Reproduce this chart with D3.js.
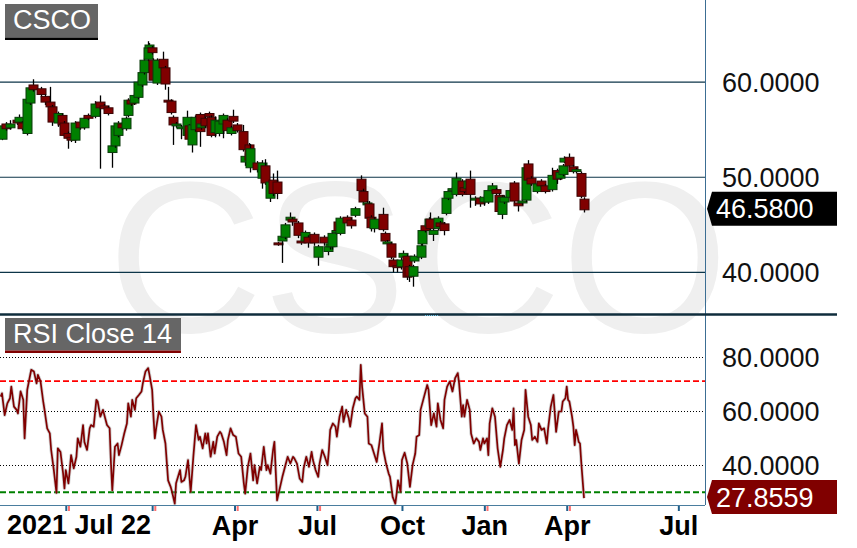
<!DOCTYPE html>
<html><head><meta charset="utf-8">
<script src="https://cdn.jsdelivr.net/npm/d3@7/dist/d3.min.js"></script>
<style>html,body{margin:0;padding:0;background:#fff;}svg{display:block;}</style>
</head><body>
<svg id="chart" width="857" height="548"></svg>
<script>
// ---- DATA (trading-day index from 2021 Jul 22) ----
const symbol = "CSCO";
const rsiTitle = "RSI Close 14";
const startDateLabel = "2021 Jul 22";
const candleDay = [0,3,6,11,13,15,19,21,23,29,32,36,38,42,45,47,50,52,55,59,62,65,70,74,77,80,83,85,87,90,93,95,97,99,102,105,107,110,111,113,114,117,121,123,125,127,129,131,135,139,141,143,145,149,150,153,156,157,160,163,166,169,172,174,177,181,183,186,187,192,196,198,202,204,207,208,211,213,217,218,223,225,228,230,235,238,242,245,247,248,251,253,254,260,263,266,270,272,275,276,278,280,287,288,290,293,294,297,300,302,305,306,309,310,315,316,318,321,322,324,328,330,333,334,336,339,342,346,348,351,352,356,360,363,366,369,372,374,376,378,382,385,388,391,394,396,398,403,406,409,414,418,420,422,423,427,430,432,436,438];
const candleOpen = [54.0,55.6,55.2,56.0,55.8,55.7,54.6,57.8,59.7,59.3,58.5,57.9,57.4,55.7,56.5,55.7,54.6,54.2,53.9,55.8,55.2,56.5,56.4,57.9,57.5,57.3,52.6,53.3,54.4,55.6,55.1,56.5,58.1,57.8,58.4,59.7,61.0,62.4,63.6,63.6,62.3,59.9,62.4,61.5,58.1,58.0,56.3,55.4,55.1,54.4,55.4,53.4,55.0,56.6,55.2,56.2,56.7,56.3,54.7,54.6,55.6,56.0,54.6,56.4,55.5,54.8,51.6,53.4,51.0,51.5,49.9,51.2,47.8,49.7,49.5,43.1,43.3,43.7,45.5,45.6,45.2,43.3,43.3,43.7,44.0,41.6,43.7,42.2,42.7,42.7,44.2,45.3,44.1,45.8,45.5,46.0,49.8,48.5,47.1,47.2,45.8,44.6,46.1,44.1,43.0,43.0,41.3,40.7,40.6,41.6,41.7,40.6,39.6,41.2,41.6,43.0,44.9,44.8,45.6,44.0,44.6,45.2,45.1,46.2,47.8,48.6,48.2,49.6,48.9,48.8,49.8,47.6,47.8,47.4,47.4,48.6,48.7,48.1,46.1,47.4,47.9,49.4,47.3,47.3,47.6,51.4,49.9,48.5,49.6,49.1,48.7,50.7,49.9,50.3,51.6,52.1,51.1,50.6,50.4,47.7];
const candleHigh = [55.6,55.8,56.0,56.3,56.6,55.9,58.4,59.6,60.3,59.5,58.7,59.5,57.6,56.9,56.7,55.9,54.8,54.4,55.9,56.0,56.4,56.7,58.0,58.6,57.7,57.5,53.5,55.6,55.9,55.8,56.4,58.3,58.3,58.8,60.2,61.2,62.5,64.3,64.1,63.8,62.5,62.5,63.2,61.7,59.5,58.2,56.5,55.8,55.5,57.0,55.6,55.7,56.5,56.8,55.8,56.4,56.9,56.5,56.4,56.1,56.7,56.2,55.4,57.1,55.7,55.5,52.5,53.6,53.5,51.7,51.8,51.9,49.7,50.4,50.7,43.2,44.2,45.2,46.3,45.8,45.4,43.5,44.4,43.9,44.2,42.9,43.9,43.0,43.3,44.4,44.6,45.5,45.9,46.0,45.7,46.9,50.2,48.8,47.5,47.5,46.0,45.8,46.8,44.3,43.4,43.2,41.5,40.9,41.6,42.3,41.9,40.8,40.8,41.9,43.0,44.6,45.1,45.8,46.3,44.6,45.9,45.4,45.3,48.0,48.7,49.0,50.5,49.8,49.1,49.8,50.7,48.0,48.0,48.2,48.8,49.4,48.9,48.3,48.1,48.1,48.8,49.6,47.5,47.7,51.2,51.8,50.1,49.5,49.8,49.3,51.0,50.9,50.7,51.4,52.2,52.5,51.3,51.0,50.6,47.9];
const candleLow = [53.9,54.9,55.0,55.5,55.6,54.9,54.4,57.6,59.0,58.4,57.6,57.2,55.4,55.3,55.2,54.2,53.0,53.7,53.6,55.0,55.0,56.0,56.2,50.9,57.0,56.5,51.0,53.1,54.2,55.0,54.9,56.3,57.5,57.6,58.2,59.5,60.8,62.2,63.4,62.9,60.0,59.7,61.3,59.2,57.7,56.6,53.4,55.2,54.0,54.2,53.8,52.6,54.8,53.2,55.0,55.2,56.2,54.2,54.2,54.3,54.1,54.7,54.4,55.7,54.7,52.7,51.2,51.5,50.5,50.5,48.8,49.2,47.4,48.0,47.7,42.8,41.0,43.5,45.3,44.9,43.6,42.9,43.1,42.6,42.8,40.7,42.8,41.8,42.4,42.4,44.0,44.1,43.9,44.9,44.6,45.8,48.3,47.2,46.9,45.5,44.3,44.2,44.3,43.0,42.8,41.4,40.0,40.0,40.3,41.3,39.2,39.0,38.5,41.0,41.4,42.8,44.2,44.6,44.4,43.3,44.4,44.6,43.9,46.0,47.6,48.4,48.0,48.0,48.3,48.6,46.8,47.0,46.9,47.0,47.2,48.4,48.1,46.2,45.6,47.2,47.7,47.3,46.4,47.1,47.4,49.5,49.1,48.3,48.9,48.3,48.5,49.3,49.7,50.1,51.5,51.0,50.4,50.4,47.8,46.3];
const candleClose = [55.4,55.1,55.6,55.7,56.3,55.1,58.2,59.4,59.2,58.7,57.9,57.4,55.8,56.7,55.5,54.4,54.1,53.9,55.7,55.2,56.2,56.2,57.7,57.3,57.2,56.7,53.3,55.4,55.7,55.2,56.2,58.1,57.7,58.6,60.0,61.0,62.3,63.6,63.9,63.1,60.2,62.3,61.5,59.8,57.9,56.8,55.5,55.6,55.3,56.3,54.0,55.5,56.3,54.8,55.6,55.4,56.4,54.4,56.0,55.9,56.5,54.9,55.2,55.9,54.9,52.9,52.2,51.8,53.0,50.8,51.5,49.4,49.5,48.3,48.3,42.9,43.8,45.0,45.8,45.3,43.9,43.1,44.2,43.1,43.1,42.7,43.1,42.7,43.0,44.1,44.4,44.4,45.7,45.2,44.9,46.7,48.6,47.4,47.3,45.7,44.7,45.6,44.5,43.3,43.2,41.6,40.6,40.5,41.3,42.0,39.5,39.6,40.6,41.7,42.8,44.4,44.4,45.6,44.6,44.4,45.7,44.8,44.4,47.8,48.5,48.8,49.9,48.2,48.5,49.6,48.2,47.8,47.2,47.9,48.6,49.1,48.3,46.4,47.9,47.9,48.6,47.5,47.0,47.5,51.0,49.7,49.3,49.3,49.1,48.5,50.2,49.8,50.5,51.2,52.0,51.2,50.6,50.8,48.0,46.58];
const rsiDay = [-1,0,2,4,6,7,9,11,12,14,16,17,19,22,24,26,27,29,31,32,34,36,37,39,41,42,44,46,47,48,50,51,52,54,56,57,59,61,62,64,66,67,69,71,72,74,76,78,79,81,82,83,85,87,88,90,92,94,95,97,98,100,101,103,105,106,108,110,111,113,114,115,116,118,120,121,123,125,127,128,130,131,134,135,137,138,140,142,144,146,148,149,151,153,154,155,157,159,160,162,164,165,167,169,170,172,174,176,178,180,182,183,185,187,189,190,192,194,195,197,199,200,202,204,205,207,
211,213,215,217,219,220,222,224,226,227,229,231,233,234,236,238,239,241,243,245,246,247,249,251,252,254,256,257,259,261,262,264,266,267,269,270,271,273,275,276,278,280,282,284,286,287,289,291,292,294,296,297,298,300,301,303,305,307,309,311,312,314,315,317,320,321,323,325,327,328,330,332,333,335,337,339,341,343,344,346,347,348,350,352,353,355,357,359,360,362,363,365,366,367,369,371,373,375,377,378,380,382,384,385,386,387,389,391,393,394,396,398,399,401,403,404,406,408,410,411,413,415,416,417,419,
421,422,424,425,426,427,429,430,431,432,433,434,435,436,438];
const rsiValue = [65.3,66.5,58.5,62.8,64.7,69.0,61.6,60.4,59.1,67.2,64.1,49.9,67.8,75.2,74.6,70.2,73.3,70.9,63.5,60.4,53.6,51.7,45.6,38.2,29.8,46.2,44.9,36.9,31.4,38.2,33.3,38.2,43.7,38.8,43.1,49.9,46.8,54.8,48.6,45.6,53.6,54.8,54.2,64.1,63.5,57.9,60.4,56.7,54.8,53.6,40.6,30.7,46.8,48.0,43.7,47.4,51.7,55.4,62.8,57.9,64.1,60.4,64.7,65.9,67.2,70.2,74.6,75.8,73.3,67.8,57.9,49.9,53.6,59.8,57.9,53.0,48.0,34.4,31.9,30.1,25.8,33.3,38.2,33.8,34.4,35.7,41.9,30.1,43.1,54.8,49.3,50.5,46.2,51.7,48.0,51.7,43.1,48.6,44.3,50.5,52.3,51.7,48.6,43.7,49.3,53.6,51.1,50.5,44.3,43.1,33.3,29.5,39.4,44.3,34.4,40.0,33.3,39.4,38.2,46.8,38.2,40.0,36.9,45.6,48.6,27.0,
35.7,39.4,43.1,40.6,43.1,42.5,40.6,35.1,33.8,38.8,43.1,39.4,44.9,41.9,38.2,35.7,40.6,45.6,43.1,40.0,45.6,53.0,55.4,54.2,50.5,57.9,61.6,56.0,60.4,57.3,54.2,61.0,64.7,65.3,64.1,77.0,69.0,59.1,57.9,48.0,47.4,44.3,41.2,48.0,55.4,45.6,40.6,36.9,35.7,28.3,25.8,29.5,34.4,30.1,41.9,44.6,40.6,32.0,40.0,44.3,50.5,51.1,60.4,64.1,69.6,67.8,54.8,59.1,54.2,62.8,56.7,53.6,64.1,69.0,70.9,67.2,72.1,74.0,70.2,57.9,62.2,57.9,64.1,60.4,51.7,48.0,49.9,48.6,45.6,49.9,48.0,49.9,43.7,55.4,61.0,57.9,46.2,39.4,45.6,49.9,54.8,56.7,53.0,61.0,47.4,49.3,40.6,49.3,53.0,67.8,57.9,54.8,49.3,50.5,48.6,55.4,53.0,53.6,48.0,53.6,61.6,65.9,59.1,52.3,59.8,
59.8,63.5,64.7,69.0,64.1,63.5,57.9,54.2,47.4,53.0,51.1,48.6,48.0,40.6,27.8559];
const priceTicks = [40, 50, 60];
const rsiTicks = [40, 60, 80];
const rsiOverbought = [71];
const rsiOversold = [30];
const quarterTickDays = [48, 113, 175, 237, 301, 363, 425, 509];
const quarterTickLabels = ["", "", "Apr", "Jul", "Oct", "Jan", "Apr", "Jul"];
const monthTickDays = [50, 115, 177, 239, 365, 427];
const lastPrice = candleClose[candleClose.length - 1];
const lastRsi = rsiValue[rsiValue.length - 1];

// ---- LAYOUT ----
const W = 857, H = 548;
const plotRight = 705, edgeRight = 837;
const priceTop = 0, priceBottom = 314;
const rsiTop = 316, rsiBottom = 505;
const font = "'Liberation Sans', Arial, Helvetica, sans-serif";

const svg = d3.select("#chart").style("font-family", font);
const x = d3.scaleLinear().domain([0, 438]).range([2, 584]);
const yP = d3.scaleLinear().domain([35.63, 68.63]).range([priceBottom, priceTop]);
const yR = d3.scaleLinear().domain([25.3, 95.05]).range([rsiBottom, rsiTop]);
const fmt = d3.format(".4f");

const defs = svg.append("defs");
defs.append("clipPath").attr("id", "clipP").append("rect").attr("x", 0).attr("y", priceTop).attr("width", plotRight).attr("height", priceBottom - priceTop);
defs.append("clipPath").attr("id", "clipR").append("rect").attr("x", 0).attr("y", rsiTop).attr("width", plotRight).attr("height", rsiBottom - rsiTop);

// watermark
svg.append("text").attr("x", 418).attr("y", 332).attr("text-anchor", "middle")
  .attr("font-size", 215).attr("fill", "#efefef").text(symbol);

// price grid
svg.append("g").selectAll("line").data(priceTicks).join("line")
  .attr("x1", 0).attr("x2", plotRight).attr("y1", d => yP(d)).attr("y2", d => yP(d))
  .attr("stroke", "#0c3548").attr("stroke-width", 1.2);

// RSI grid
svg.append("g").selectAll("line").data(rsiTicks).join("line")
  .attr("x1", 0).attr("x2", plotRight).attr("y1", d => Math.round(yR(d)) + 0.5).attr("y2", d => Math.round(yR(d)) + 0.5)
  .attr("stroke", "#000").attr("stroke-width", 1).attr("stroke-dasharray", "1,2");
svg.append("g").selectAll("line").data(rsiOverbought).join("line")
  .attr("x1", 0).attr("x2", plotRight).attr("y1", d => yR(d)).attr("y2", d => yR(d))
  .attr("stroke", "#ff0000").attr("stroke-width", 1.6).attr("stroke-dasharray", "6,3");
svg.append("g").selectAll("line").data(rsiOversold).join("line")
  .attr("x1", 0).attr("x2", plotRight).attr("y1", d => yR(d)).attr("y2", d => yR(d))
  .attr("stroke", "#008000").attr("stroke-width", 1.8).attr("stroke-dasharray", "6,3");

// candles
const candles = candleDay.map((d, i) => ({d, o: candleOpen[i], h: candleHigh[i], l: candleLow[i], c: candleClose[i]}));
const cg = svg.append("g").attr("clip-path", "url(#clipP)");
const bodyW = 9;
candles.forEach(k => {
  const cx = Math.round(x(k.d));
  const up = k.c >= k.o;
  cg.append("line").attr("x1", cx + 0.5).attr("x2", cx + 0.5).attr("y1", yP(k.h)).attr("y2", yP(k.l))
    .attr("stroke", "#000").attr("stroke-width", 1.3);
  const top = yP(Math.max(k.o, k.c)), bot = yP(Math.min(k.o, k.c));
  cg.append("rect").attr("x", cx - 4).attr("y", top).attr("width", bodyW).attr("height", Math.max(1.5, bot - top))
    .attr("fill", up ? "#008000" : "#800000").attr("stroke", up ? "#0b3a0b" : "#3a0505").attr("stroke-width", 1);
});

// RSI line
const rsiPts = rsiDay.map((d, i) => [d, rsiValue[i]]);
const line = d3.line().x(p => x(p[0])).y(p => yR(p[1]));
const rg = svg.append("g").attr("clip-path", "url(#clipR)");
rg.append("path").datum(rsiPts).attr("d", line).attr("fill", "none")
  .attr("stroke", "rgba(150,150,150,0.45)").attr("stroke-width", 3.4).attr("stroke-linejoin", "round");
rg.append("path").datum(rsiPts).attr("d", line).attr("fill", "none")
  .attr("stroke", "#800000").attr("stroke-width", 1.7).attr("stroke-linejoin", "round");

// frame lines
svg.append("line").attr("x1", plotRight + 0.5).attr("x2", plotRight + 0.5).attr("y1", 0).attr("y2", rsiBottom)
  .attr("stroke", "#3c6e93").attr("stroke-width", 1);
svg.append("line").attr("x1", 0).attr("x2", plotRight).attr("y1", rsiBottom + 0.5).attr("y2", rsiBottom + 0.5)
  .attr("stroke", "#4a7d9e").attr("stroke-width", 1);
svg.append("line").attr("x1", 0).attr("x2", edgeRight).attr("y1", 314.5).attr("y2", 314.5)
  .attr("stroke", "#0f2d3c").attr("stroke-width", 2.5);
svg.append("line").attr("x1", 425).attr("x2", 439).attr("y1", 315.5).attr("y2", 315.5)
  .attr("stroke", "#6ec6e8").attr("stroke-width", 1).attr("stroke-dasharray", "1,1");

// right axes
const pAxis = svg.append("g").attr("transform", `translate(${plotRight},0)`)
  .call(d3.axisRight(yP).tickValues(priceTicks).tickFormat(fmt).tickSize(0).tickPadding(17));
const rAxis = svg.append("g").attr("transform", `translate(${plotRight},0)`)
  .call(d3.axisRight(yR).tickValues(rsiTicks).tickFormat(fmt).tickSize(0).tickPadding(17));
[pAxis, rAxis].forEach(a => {
  a.select(".domain").remove();
  a.selectAll("text").attr("font-size", 27).attr("font-family", font).attr("fill", "#111").attr("dy", "0.35em");
});

// last value tags
function tag(yv, fill, txt) {
  const h = 34, y0 = yv - h / 2;
  svg.append("path").attr("d", `M${plotRight + 2},${yv} L${plotRight + 7},${y0} L${edgeRight},${y0} L${edgeRight},${y0 + h} L${plotRight + 7},${y0 + h} Z`)
    .attr("fill", fill);
  svg.append("text").attr("x", 716).attr("y", yv).attr("dy", "0.35em").attr("font-size", 27)
    .attr("fill", "#fff").text(txt);
}
tag(yP(lastPrice) - 1, "#000", fmt(lastPrice));
tag(yR(lastRsi) - 1, "#800000", fmt(lastRsi));

// bottom axis
const xAxis = svg.append("g").attr("transform", `translate(0,${rsiBottom + 1})`)
  .call(d3.axisBottom(x).tickValues(quarterTickDays).tickFormat((d, i) => quarterTickLabels[i]).tickSize(5).tickPadding(5));
xAxis.select(".domain").remove();
xAxis.selectAll(".tick line").attr("stroke", "#1f5f8b").attr("stroke-width", 2);
xAxis.selectAll("text").attr("font-size", 27).attr("font-weight", "bold").attr("font-family", font).attr("fill", "#000");
svg.append("g").selectAll("line").data(monthTickDays).join("line")
  .attr("x1", d => x(d) + 0.5).attr("x2", d => x(d) + 0.5).attr("y1", rsiBottom + 1).attr("y2", rsiBottom + 6)
  .attr("stroke", "#ff6f6f").attr("stroke-width", 2);
svg.append("text").attr("x", 7).attr("y", 534).attr("font-size", 27).attr("font-weight", "bold").attr("fill", "#000").text(startDateLabel);

// title boxes
function titleBox(x0, y0, w, h, border, txt, baseline) {
  svg.append("rect").attr("x", x0).attr("y", y0).attr("width", w).attr("height", h).attr("fill", "#666666");
  svg.append("rect").attr("x", x0).attr("y", y0 + h).attr("width", w).attr("height", 2.5).attr("fill", border);
  svg.append("text").attr("x", x0 + 8).attr("y", baseline).attr("font-size", 27).attr("fill", "#fff").text(txt);
}
titleBox(5, 4, 93, 33.5, "#000", symbol, 28.5);
titleBox(5, 318, 176, 32.5, "#800000", rsiTitle, 342.5);
</script>
</body></html>
